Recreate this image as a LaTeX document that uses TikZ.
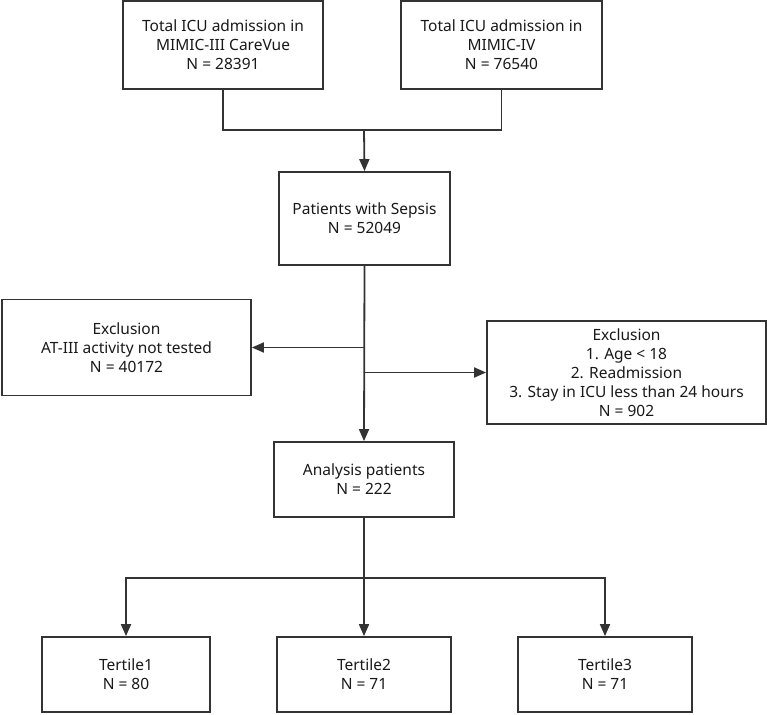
\documentclass[tikz,border=0pt]{standalone}
\usepackage{fontspec}
\setmainfont{Noto Sans}
\usetikzlibrary{positioning, arrows.meta}

\begin{document}
\begin{tikzpicture}[
      x=1pt, y=-1pt,
      box/.style={draw=black!80, line width=1.8pt, align=center,
          font=\fontsize{15.5}{19}\selectfont, text=black!90, inner sep=2pt},
      link/.style={draw=black!80, line width=1.8pt},
      arr/.style={link, -{Triangle[length=12pt, width=10pt]}},
    ]
    \useasboundingbox (0,0) rectangle (767,714);

    % Source cohorts
    \node[box, minimum width=200pt, minimum height=88pt] (mimic3) at (223,45)
      {Total ICU admission in\\MIMIC-III CareVue\\N = 28391};
    \node[box, minimum width=201pt, minimum height=88pt] (mimic4) at (501.5,45)
      {Total ICU admission in\\MIMIC-IV\\N = 76540};

    % Sepsis cohort
    \node[box, minimum width=171pt, minimum height=93pt] (sepsis) at (364.5,218.5)
      {Patients with Sepsis\\N = 52049};

    % Exclusions
    \node[box, minimum width=249pt, minimum height=96pt] (excl1) at (126.5,347.5)
      {Exclusion\\AT-III activity not tested\\N = 40172};
    \node[box, minimum width=279pt, minimum height=103pt] (excl2) at (626.5,372.5)
      {Exclusion\\1. Age < 18\\2. Readmission\\3. Stay in ICU less than 24 hours\\N = 902};

    % Final cohort
    \node[box, minimum width=180pt, minimum height=75pt] (analysis) at (364,479.5)
      {Analysis patients\\N = 222};

    % Tertiles
    \node[box, minimum width=168pt, minimum height=75pt] (tert1) at (126,674.5)
      {Tertile1\\N = 80};
    \node[box, minimum width=174pt, minimum height=75pt] (tert2) at (364,674.5)
      {Tertile2\\N = 71};
    \node[box, minimum width=174pt, minimum height=75pt] (tert3) at (605,674.5)
      {Tertile3\\N = 71};

    % Junction points
    \coordinate (merge) at (364,130);
    \coordinate (split1) at (364,347.5);
    \coordinate (split2) at (364,372.5);
    \coordinate (fork) at (364,578);

    % Connectors
    \draw[link] (mimic3.south) |- (merge) -| (mimic4.south);
    \draw[arr] (merge) -- (sepsis.north);
    \draw[arr] (sepsis.south) -- (analysis.north);
    \draw[arr] (split1) -- (excl1.east);
    \draw[arr] (split2) -- (excl2.west);
    \draw[link] (analysis.south) -- (fork);
    \draw[arr] (fork) -| (tert1.north);
    \draw[arr] (fork) -- (tert2.north);
    \draw[arr] (fork) -| (tert3.north);
  \end{tikzpicture}
\end{document}
